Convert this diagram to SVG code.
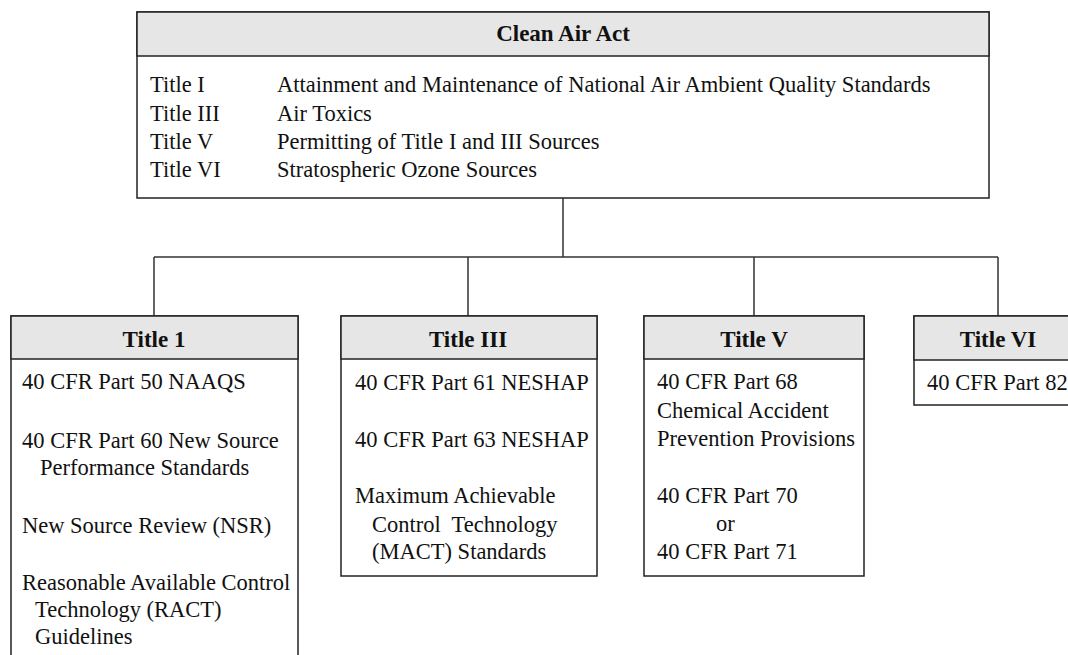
<svg xmlns="http://www.w3.org/2000/svg" width="1068" height="655" viewBox="0 0 1068 655">
<style>
.box{fill:#ffffff;stroke:#222;stroke-width:1.5}
.hdr{fill:#e6e6e6;stroke:#222;stroke-width:1.5}
.t{font-family:"Liberation Serif","Times New Roman",serif;font-size:22.5px;fill:#111}
.h{font-family:"Liberation Serif","Times New Roman",serif;font-size:23px;font-weight:bold;fill:#111;text-anchor:middle}
.c{fill:none;stroke:#333;stroke-width:1.5}
</style>
<rect width="1068" height="655" fill="#ffffff"/>
<g id="connectors">
<path class="c" d="M563 198V257M154 257H998M154 257V316M468 257V316M754 257V316M998 257V316"/>
</g>
<g id="clean-air-act">
<rect class="box" x="137" y="12" width="852" height="186"/>
<rect class="hdr" x="137" y="12" width="852" height="44"/>
<text class="h" x="563" y="41">Clean Air Act</text>
<text class="t" x="150" y="92">Title I</text>
<text class="t" x="277" y="92">Attainment and Maintenance of National Air Ambient Quality Standards</text>
<text class="t" x="150" y="120.5">Title III</text>
<text class="t" x="277" y="120.5">Air Toxics</text>
<text class="t" x="150" y="149">Title V</text>
<text class="t" x="277" y="149">Permitting of Title I and III Sources</text>
<text class="t" x="150" y="177">Title VI</text>
<text class="t" x="277" y="177">Stratospheric Ozone Sources</text>
</g>
<g id="title-1">
<rect class="box" x="11" y="316" width="287" height="360"/>
<rect class="hdr" x="11" y="316" width="287" height="43"/>
<text class="h" x="154" y="347">Title 1</text>
<text class="t" x="22" y="389">40 CFR Part 50 NAAQS</text>
<text class="t" x="22" y="448">40 CFR Part 60 New Source</text>
<text class="t" x="40" y="475">Performance Standards</text>
<text class="t" x="22" y="533">New Source Review (NSR)</text>
<text class="t" x="22" y="590">Reasonable Available Control</text>
<text class="t" x="35" y="617">Technology (RACT)</text>
<text class="t" x="35" y="644">Guidelines</text>
</g>
<g id="title-3">
<rect class="box" x="341" y="316" width="256" height="260"/>
<rect class="hdr" x="341" y="316" width="256" height="43"/>
<text class="h" x="468" y="347">Title III</text>
<text class="t" x="355" y="390">40 CFR Part 61 NESHAP</text>
<text class="t" x="355" y="447">40 CFR Part 63 NESHAP</text>
<text class="t" x="355" y="503">Maximum Achievable</text>
<text class="t" x="372" y="532" xml:space="preserve">Control  Technology</text>
<text class="t" x="372" y="559">(MACT) Standards</text>
</g>
<g id="title-5">
<rect class="box" x="644" y="316" width="220" height="260"/>
<rect class="hdr" x="644" y="316" width="220" height="43"/>
<text class="h" x="754" y="347">Title V</text>
<text class="t" x="657" y="389">40 CFR Part 68</text>
<text class="t" x="657" y="418">Chemical Accident</text>
<text class="t" x="657" y="446">Prevention Provisions</text>
<text class="t" x="657" y="503">40 CFR Part 70</text>
<text class="t" x="716" y="531">or</text>
<text class="t" x="657" y="559">40 CFR Part 71</text>
</g>
<g id="title-6">
<rect class="box" x="914" y="316" width="170" height="89"/>
<rect class="hdr" x="914" y="316" width="170" height="44"/>
<text class="h" x="998" y="347">Title VI</text>
<text class="t" x="927" y="390">40 CFR Part 82</text>
</g>
</svg>
